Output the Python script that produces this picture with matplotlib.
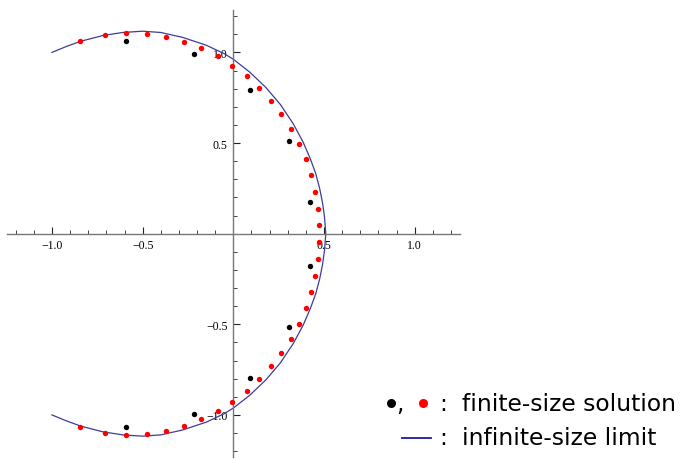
import matplotlib
matplotlib.use("Agg")
import matplotlib.pyplot as plt
from matplotlib.lines import Line2D
from matplotlib.ticker import FixedLocator, MultipleLocator

# finite-size solution, red points (40 roots), upper half then lower half
red_x = [-0.844, -0.709, -0.590, -0.478, -0.371, -0.272, -0.176, -0.086, -0.006, 0.074,
         0.143, 0.208, 0.265, 0.316, 0.362, 0.399, 0.428, 0.452, 0.467, 0.474,
         0.474, 0.467, 0.452, 0.428, 0.399, 0.362, 0.316, 0.265, 0.208, 0.143,
         0.074, -0.006, -0.086, -0.176, -0.272, -0.371, -0.478, -0.590, -0.709, -0.844]
red_y = [1.063, 1.096, 1.107, 1.103, 1.087, 1.057, 1.023, 0.978, 0.925, 0.868,
         0.802, 0.734, 0.659, 0.579, 0.496, 0.410, 0.322, 0.230, 0.138, 0.048,
         -0.047, -0.140, -0.232, -0.320, -0.410, -0.496, -0.579, -0.658, -0.731, -0.803,
         -0.868, -0.927, -0.978, -1.024, -1.061, -1.088, -1.103, -1.109, -1.098, -1.064]

# finite-size solution, black points (10 roots)
black_x = [-0.594, -0.215, 0.092, 0.309, 0.421, 0.421, 0.309, 0.092, -0.215, -0.594]
black_y = [1.063, 0.993, 0.794, 0.511, 0.177, -0.176, -0.513, -0.796, -0.993, -1.064]

# infinite-size limit curve, read from top-left end to bottom-left end
curve_x = [-1.00, -0.92, -0.84, -0.72, -0.61, -0.50, -0.40, -0.28, -0.15, -0.05,
           0.000, 0.090, 0.180, 0.260, 0.330, 0.385, 0.425, 0.455, 0.476, 0.492, 0.503,
           0.510,
           0.503, 0.492, 0.476, 0.455, 0.425, 0.385, 0.330, 0.260, 0.180, 0.090, 0.000,
           -0.05, -0.15, -0.28, -0.40, -0.50, -0.61, -0.72, -0.84, -0.92, -1.00]
curve_y = [1.000, 1.033, 1.062, 1.093, 1.110, 1.117, 1.110, 1.083, 1.040, 0.993,
           0.962, 0.892, 0.806, 0.712, 0.607, 0.505, 0.412, 0.330, 0.250, 0.170, 0.090,
           0.000,
           -0.090, -0.170, -0.250, -0.330, -0.412, -0.505, -0.607, -0.712, -0.806, -0.892,
           -0.962, -0.993, -1.040, -1.083, -1.110, -1.117, -1.110, -1.093, -1.062, -1.033,
           -1.000]

tick_vals = [-1.0, -0.5, 0.5, 1.0]
tick_text = ["\u22121.0", "\u22120.5", "0.5", "1.0"]

W, H = 681, 460
fig = plt.figure(figsize=(W / 100, H / 100), dpi=100)
ax = fig.add_axes([7 / W, 1 - 458 / H, 453 / W, 447 / H])

ax.plot(curve_x, curve_y, color="#3d3d99", lw=0.9, zorder=2, solid_joinstyle="round")
ax.plot(red_x, red_y, "o", color="red", ms=3.9, mec="none", zorder=3)
ax.plot(black_x, black_y, "o", color="black", ms=3.9, mec="none", zorder=3)

ax.set_xlim(-1.248, 1.250)
ax.set_ylim(-1.232, 1.234)

for s in ["top", "right"]:
    ax.spines[s].set_visible(False)
for s in ["left", "bottom"]:
    ax.spines[s].set_position("zero")
    ax.spines[s].set_color("#777777")
    ax.spines[s].set_linewidth(1.0)
ax.set_facecolor("none")

ax.xaxis.set_major_locator(FixedLocator(tick_vals))
ax.yaxis.set_major_locator(FixedLocator(tick_vals))
ax.xaxis.set_minor_locator(MultipleLocator(0.1))
ax.yaxis.set_minor_locator(MultipleLocator(0.1))
ax.set_xticklabels(tick_text, family="Liberation Serif", fontsize=8.5)
ax.set_yticklabels(tick_text, family="Liberation Serif", fontsize=8.5)
ax.tick_params(which="major", direction="in", length=5, width=0.8, color="#222222", pad=4)
ax.tick_params(which="minor", direction="in", length=3, width=0.6, color="#222222")

# legend drawn as text in pixel positions
def fx(px):
    return px / W

def fy(py):
    return 1 - py / H

fs = 16.8
fig.add_artist(Line2D([fx(390.7)], [fy(404)], marker="o", color="black", ms=6.5, mec="none",
                      transform=fig.transFigure))
fig.text(fx(396), fy(410.7), ",", fontsize=fs, va="baseline", ha="left")
fig.add_artist(Line2D([fx(423.3)], [fy(404)], marker="o", color="red", ms=6.5, mec="none",
                      transform=fig.transFigure))
fig.text(fx(443.3), fy(410.7), ":", fontsize=fs, va="baseline", ha="center")
fig.text(fx(461.7), fy(410.7), "finite-size solution", fontsize=fs, va="baseline", ha="left")

fig.add_artist(Line2D([fx(401.7), fx(431)], [fy(438.7), fy(438.7)], color="#1a1aa6", lw=1.3,
                      transform=fig.transFigure))
fig.text(fx(443.3), fy(445), ":", fontsize=fs, va="baseline", ha="center")
fig.text(fx(461.7), fy(445), "infinite-size limit", fontsize=fs, va="baseline", ha="left")

fig.savefig("out.png", dpi=100)
